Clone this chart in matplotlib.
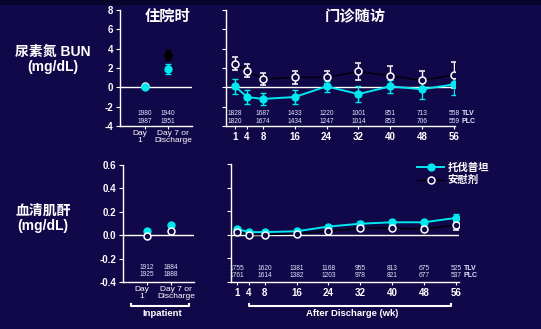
import matplotlib
matplotlib.use('Agg')
import matplotlib.pyplot as plt
from matplotlib.patches import Rectangle
from matplotlib.lines import Line2D

plt.rcParams['font.family'] = ['Liberation Sans', 'Noto Sans CJK SC', 'DejaVu Sans']

# data
weeks = [1, 4, 8, 16, 24, 32, 40, 48, 56]
week_labels = ['1', '4', '8', '16', '24', '32', '40', '48', '56']
inpt_pos = [1, 2]
inpt_labels = ['Day\n1', 'Day 7 or\nDischarge']

bun_tlv = [0.1, -1.0, -1.2, -1.0, 0.1, -0.7, 0.1, -0.2, 0.3]
bun_tlv_err = [0.75, 0.7, 0.65, 0.7, 0.55, 0.8, 0.7, 1.0, 1.1]
bun_plc = [2.45, 1.72, 0.86, 1.03, 1.03, 1.65, 1.2, 0.72, 1.28]
bun_plc_err = [0.65, 0.65, 0.65, 0.67, 0.7, 0.9, 1.0, 0.97, 1.3]
bun_in_tlv = [0.0, 1.93]
bun_in_tlv_err = [0.0, 0.5]
bun_in_plc = [0.1, 3.35]
bun_in_plc_err = [0.0, 0.5]

cr_tlv = [0.05, 0.023, 0.023, 0.03, 0.07, 0.094, 0.106, 0.106, 0.143]
cr_tlv_err = [0.01, 0.01, 0.01, 0.01, 0.015, 0.02, 0.02, 0.02, 0.035]
cr_plc = [0.026, 0.0, 0.0, 0.011, 0.03, 0.057, 0.057, 0.049, 0.08]
cr_plc_err = [0.01, 0.01, 0.01, 0.01, 0.015, 0.02, 0.02, 0.02, 0.04]
cr_in_tlv = [0.04, 0.086]
cr_in_plc = [-0.01, 0.034]

# patient counts (TLV row / PLC row)
n_weeks = [1, 8, 16, 24, 32, 40, 48, 56]
bun_n_tlv = [1828, 1687, 1433, 1220, 1001, 851, 713, 558]
bun_n_plc = [1820, 1674, 1434, 1247, 1014, 853, 706, 559]
bun_in_n_tlv = [1980, 1940]
bun_in_n_plc = [1987, 1951]
cr_n_tlv = [1755, 1620, 1381, 1168, 955, 813, 675, 525]
cr_n_plc = [1761, 1614, 1382, 1203, 978, 821, 677, 537]
cr_in_n_tlv = [1912, 1884]
cr_in_n_plc = [1925, 1888]

BG = '#100848'
CYAN = '#00e8f0'
W = 541
H = 329


def box(x0, y0, x1, y1):
    # pixel box -> figure fraction
    return [x0 / W, 1 - y1 / H, (x1 - x0) / W, (y1 - y0) / H]


fig = plt.figure(figsize=(5.41, 3.29), dpi=100, facecolor=BG)
fig.patches.append(Rectangle((0, 1 - 5 / H), 1, 5 / H, transform=fig.transFigure,
                             facecolor='#05052b', edgecolor='none', zorder=0))

ax_bl = fig.add_axes(box(120, 10, 192, 126))
ax_br = fig.add_axes(box(226, 10, 455, 126))
ax_cl = fig.add_axes(box(123, 165, 194, 282))
ax_cr = fig.add_axes(box(231, 164, 459, 282))


def style(ax, ylim, yticks, ylabels, show_y=True):
    ax.set_facecolor('none')
    ax.set_ylim(*ylim)
    for s in ['top', 'right']:
        ax.spines[s].set_visible(False)
    for s in ['left', 'bottom']:
        ax.spines[s].set_color('white')
        ax.spines[s].set_linewidth(1.0)
    ax.set_yticks(yticks)
    if show_y:
        ax.set_yticklabels(ylabels, fontsize=7, fontweight='bold', color='white')
    else:
        ax.set_yticklabels([])
    ax.tick_params(axis='y', colors='white', length=3, width=0.8, pad=2)
    ax.tick_params(axis='x', colors='white', length=2.5, width=0.8, pad=2)
    ax.axhline(0, color='white', lw=1.0, zorder=1)


bun_ticks = [-4, -2, 0, 2, 4, 6, 8]
cr_ticks = [-0.4, -0.2, 0.0, 0.2, 0.4, 0.6]
style(ax_bl, (-4, 8), bun_ticks, [str(t) for t in bun_ticks])
style(ax_br, (-4, 8), bun_ticks, [], show_y=False)
style(ax_cl, (-0.4, 0.6), cr_ticks, ['%.1f' % t for t in cr_ticks])
style(ax_cr, (-0.4, 0.6), cr_ticks, [], show_y=False)

ax_bl.set_xlim(-0.09, 3.04)
ax_cl.set_xlim(0.0, 2.96)
ax_br.set_xlim(-1.3, 56.3)
ax_cr.set_xlim(-0.5, 56.8)

# inpatient day labels sit a little apart from their ticks, as in the slide
day_shift = [-0.22, 0.22]
for ax, ylab in [(ax_bl, -4.4), (ax_cl, -0.435)]:
    ax.set_xticks(inpt_pos)
    ax.set_xticklabels([])
    for x, dx, lab in zip(inpt_pos, day_shift, inpt_labels):
        ax.text(x + dx, ylab, lab, fontsize=6, color='white', ha='center', va='top',
                linespacing=0.95, clip_on=False)
for ax in [ax_br, ax_cr]:
    ax.set_xticks(weeks)
    ax.set_xticklabels(week_labels, fontsize=7, fontweight='bold', color='white')

eb_kw = dict(capsize=2.5, elinewidth=1.0, capthick=1.0, markersize=5, zorder=3)

# BUN outpatient
ax_br.errorbar(weeks, bun_plc, yerr=bun_plc_err, fmt='o-', color='black', lw=0.9,
               ecolor='white', mfc=BG, mec='white', mew=1.1, **eb_kw)
ax_br.errorbar(weeks, bun_tlv, yerr=bun_tlv_err, fmt='o-', color=CYAN, lw=1.4,
               ecolor=CYAN, mfc=CYAN, mec=CYAN, **eb_kw)

# BUN inpatient
ax_bl.errorbar(inpt_pos[1:], bun_in_plc[1:], yerr=bun_in_plc_err[1:], fmt='o',
               color='black', ecolor='black', mfc='black', mec='black', **eb_kw)
ax_bl.errorbar(inpt_pos[:1], bun_in_plc[:1], fmt='o', color='white', mfc=BG,
               mec='white', mew=1.1, markersize=5, zorder=3)
ax_bl.errorbar(inpt_pos, bun_in_tlv, yerr=bun_in_tlv_err, fmt='o', color=CYAN,
               ecolor=CYAN, mfc=CYAN, mec=CYAN, **eb_kw)

# creatinine outpatient
ax_cr.errorbar(weeks, cr_tlv, yerr=cr_tlv_err, fmt='o-', color=CYAN, lw=1.4,
               ecolor=CYAN, mfc=CYAN, mec=CYAN, **eb_kw)
ax_cr.errorbar(weeks, cr_plc, yerr=cr_plc_err, fmt='o-', color='black', lw=0.9,
               ecolor='white', mfc=BG, mec='white', mew=1.1, **eb_kw)

# creatinine inpatient
ax_cl.plot(inpt_pos, cr_in_tlv, 'o', color=CYAN, markersize=5, zorder=3)
ax_cl.plot(inpt_pos, cr_in_plc, 'o', mfc=BG, mec='white', mew=1.1, markersize=5, zorder=3)

# patient counts
cnt_kw = dict(fontsize=4.8, color='#e4e4ff', ha='center', va='center')
for x, a, b in zip(n_weeks, bun_n_tlv, bun_n_plc):
    ax_br.text(x, -2.7, str(a), **cnt_kw)
    ax_br.text(x, -3.5, str(b), **cnt_kw)
for x, a, b in zip(inpt_pos, bun_in_n_tlv, bun_in_n_plc):
    ax_bl.text(x, -2.7, str(a), **cnt_kw)
    ax_bl.text(x, -3.5, str(b), **cnt_kw)
for x, a, b in zip(n_weeks, cr_n_tlv, cr_n_plc):
    ax_cr.text(x, -0.283, str(a), **cnt_kw)
    ax_cr.text(x, -0.343, str(b), **cnt_kw)
for x, a, b in zip(inpt_pos, cr_in_n_tlv, cr_in_n_plc):
    ax_cl.text(x, -0.28, str(a), **cnt_kw)
    ax_cl.text(x, -0.335, str(b), **cnt_kw)
for ax, y1, y2 in [(ax_br, -2.7, -3.5), (ax_cr, -0.283, -0.343)]:
    ax.text(58.0, y1, 'TLV', fontsize=5, fontweight='bold', color='#e4e4ff',
            va='center', clip_on=False)
    ax.text(58.0, y2, 'PLC', fontsize=5, fontweight='bold', color='#e4e4ff',
            va='center', clip_on=False)

# titles and y labels
fig.text(168 / W, 1 - 17 / H, '住院时', fontsize=11, fontweight='bold', color='white',
         ha='center', va='center')
fig.text(355 / W, 1 - 17 / H, '门诊随访', fontsize=11, fontweight='bold', color='white',
         ha='center', va='center')
fig.text(53 / W, 1 - 59 / H, '尿素氮 BUN\n(mg/dL)', fontsize=10, fontweight='bold',
         color='white', ha='center', va='center', linespacing=1.1)
fig.text(43 / W, 1 - 218 / H, '血清肌酐\n(mg/dL)', fontsize=10, fontweight='bold',
         color='white', ha='center', va='center', linespacing=1.1)

# brackets under the bottom panels
for x0, x1, label, xc in [(131, 189, 'Inpatient', 162), (249, 451, 'After Discharge (wk)', 352)]:
    fig.add_artist(Line2D([x0 / W, x0 / W, x1 / W, x1 / W],
                          [1 - 304 / H, 1 - 306 / H, 1 - 306 / H, 1 - 304 / H],
                          color='white', lw=1.5, transform=fig.transFigure))
    fig.text(xc / W, 1 - 314 / H, label, fontsize=6.8, fontweight='bold', color='white',
             ha='center', va='center')

# legend
handles = [Line2D([], [], color=CYAN, lw=1.4, marker='o', markersize=5, mfc=CYAN, mec=CYAN),
           Line2D([], [], color='black', lw=0.9, marker='o', markersize=5, mfc=BG,
                  mec='white', mew=1.1)]
leg = fig.legend(handles, ['托伐普坦', '安慰剂'], loc='upper left',
                 bbox_to_anchor=(412 / W, 1 - 157 / H), frameon=False, fontsize=7.5,
                 handlelength=2.6, handletextpad=0.3, labelspacing=0.25, borderpad=0)
for t in leg.get_texts():
    t.set_color('white')
    t.set_fontweight('bold')

fig.savefig('out.png', dpi=100, facecolor=BG)
